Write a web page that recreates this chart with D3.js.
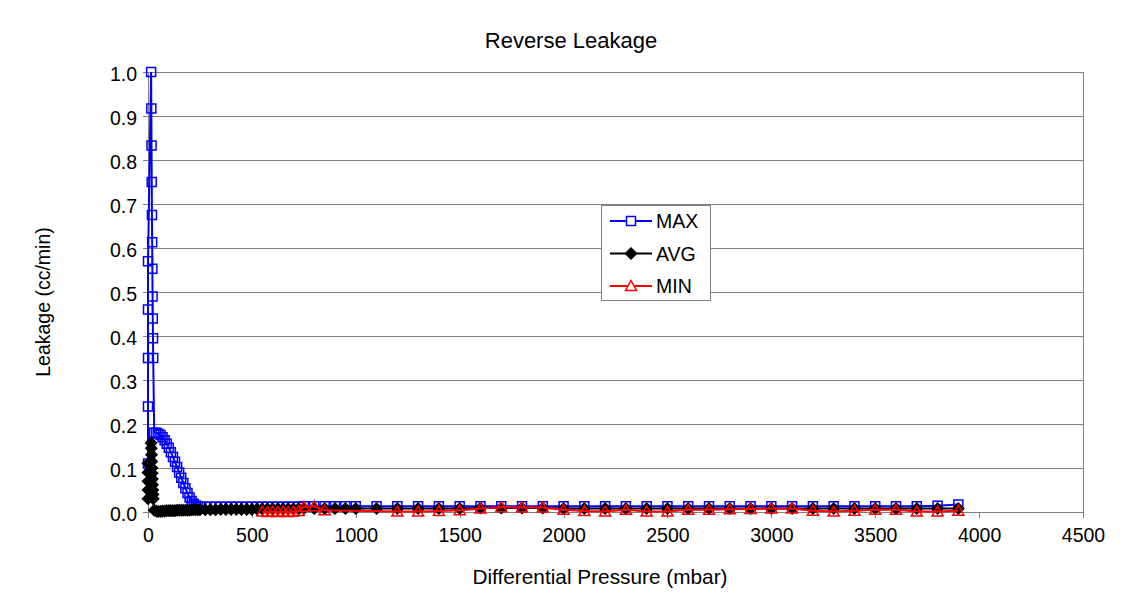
<!DOCTYPE html>
<html><head><meta charset="utf-8">
<script src="https://cdn.jsdelivr.net/npm/d3@7"></script>
<style>
html,body{margin:0;padding:0;background:#fff;}
text{font-family:"Liberation Sans",Arial,sans-serif;fill:#000;}
</style></head>
<body><svg id="chart" width="1130" height="616"></svg>
<script>
// ---------------- data ----------------
const title = "Reverse Leakage";
const xLabel = "Differential Pressure (mbar)";
const yLabel = "Leakage (cc/min)";
const xTicks = [0,500,1000,1500,2000,2500,3000,3500,4000,4500];
const yTicks = [0.0,0.1,0.2,0.3,0.4,0.5,0.6,0.7,0.8,0.9,1.0];
const seriesNames = ["MAX","AVG","MIN"];

const pressure = [0,0,0,0,0,
  15,16,17,18,19,20,21,22,23,24,25,
  30,40,50,60,70,80,90,100,110,120,130,140,150,160,170,180,190,200,210,220,230,240,250,
  275,300,325,350,375,400,425,450,475,500,525,550,575,600,625,650,675,700,725,
  750,800,850,900,950,1000,
  1100,1200,1300,1400,1500,1600,1700,1800,1900,2000,2100,2200,2300,2400,2500,2600,2700,2800,2900,3000,3100,3200,3300,3400,3500,3600,3700,3800,3900];

const maxValues = [0.11,0.24,0.35,0.46,0.57,
  1.0,0.917,0.833,0.75,0.675,0.613,0.553,0.49,0.44,0.395,0.35,
  0.18,0.18,0.178,0.175,0.17,0.163,0.155,0.146,0.136,0.125,0.114,0.102,0.09,0.078,0.066,0.054,0.043,0.033,0.025,0.019,0.015,0.013,0.012,
  0.012,0.012,0.012,0.012,0.012,0.012,0.012,0.012,0.012,0.012,0.012,0.012,0.012,0.012,0.012,0.012,0.012,0.012,0.012,
  0.013,0.013,0.013,0.013,0.013,0.013,
  0.013,0.013,0.013,0.013,0.013,0.013,0.013,0.013,0.013,0.013,0.013,0.013,0.013,0.013,0.013,0.013,0.013,0.013,0.013,0.013,0.013,0.013,0.013,0.013,0.013,0.013,0.013,0.014,0.017];

const avgValues = [0.03,0.05,0.07,0.09,0.11,
  0.157,0.145,0.13,0.115,0.1,0.088,0.075,0.062,0.05,0.04,0.03,
  0.004,0.002,0.001,0.001,0.002,0.002,0.003,0.003,0.003,0.003,0.003,0.004,0.004,0.004,0.004,0.004,0.004,0.004,0.005,0.005,0.005,0.005,0.005,
  0.005,0.005,0.005,0.006,0.006,0.006,0.006,0.006,0.006,0.006,0.007,0.007,0.007,0.007,0.007,0.007,0.007,0.007,0.007,
  0.008,0.008,0.008,0.008,0.008,0.008,
  0.008,0.008,0.008,0.008,0.008,0.009,0.009,0.009,0.009,0.008,0.008,0.008,0.008,0.008,0.008,0.008,0.008,0.008,0.008,0.008,0.008,0.008,0.008,0.008,0.008,0.008,0.008,0.008,0.008];

const minPressure = [550,575,600,625,650,675,700,725,750,800,850,
  1200,1300,1400,1500,1600,1700,1800,1900,2000,2100,2200,2300,2400,2500,2600,2700,2800,2900,3000,3100,3200,3300,3400,3500,3600,3700,3800,3900];
const minValues = [0.001,0.0,0.001,0.0,0.001,0.0,0.001,0.002,0.012,0.013,0.004,
  0.001,0.001,0.002,0.004,0.008,0.011,0.01,0.01,0.005,0.002,0.001,0.005,0.001,0.001,0.005,0.005,0.006,0.007,0.008,0.008,0.003,0.001,0.003,0.005,0.005,0.001,0.001,0.003];

// ---------------- layout ----------------
const svg = d3.select("#chart");
const L = 148, R = 1083, T = 72, B = 512;
const x = d3.scaleLinear().domain([0,4500]).range([L,R]);
const y = d3.scaleLinear().domain([0,1]).range([B,T]);
const gridColor = "#808080";
const FONT = "Liberation Sans, Arial, sans-serif";

// gridlines
svg.append("g").selectAll("line").data(yTicks.filter(d=>d>0)).join("line")
  .attr("x1",L).attr("x2",R).attr("y1",d=>y(d)).attr("y2",d=>y(d))
  .attr("stroke",gridColor).attr("stroke-width",1).attr("shape-rendering","crispEdges");
// right border
svg.append("line").attr("x1",R).attr("x2",R).attr("y1",T).attr("y2",B)
  .attr("stroke",gridColor).attr("shape-rendering","crispEdges");

// axes
const yAxis = svg.append("g").attr("transform",`translate(${L},0)`)
  .call(d3.axisLeft(y).tickValues(yTicks).tickFormat(d3.format(".1f")).tickSize(5).tickPadding(6));
const xAxis = svg.append("g").attr("transform",`translate(0,${B})`)
  .call(d3.axisBottom(x).tickValues(xTicks).tickFormat(d3.format("d")).tickSize(6).tickPadding(10));
[yAxis,xAxis].forEach(g=>{
  g.select(".domain").attr("stroke",gridColor).attr("shape-rendering","crispEdges");
  g.selectAll(".tick line").attr("stroke",gridColor).attr("shape-rendering","crispEdges");
  g.selectAll(".tick text").attr("font-size",19.5).attr("font-family",FONT).attr("fill","#000");
});
yAxis.selectAll(".tick text").attr("dy","0.45em");

// titles
svg.append("text").attr("x",571).attr("y",48).attr("text-anchor","middle").attr("font-size",22).text(title);
svg.append("text").attr("x",600).attr("y",584).attr("text-anchor","middle").attr("font-size",20.8).text(xLabel);
svg.append("text").attr("transform",`translate(50,${(T+B)/2 + 10}) rotate(-90)`).attr("text-anchor","middle").attr("font-size",19.5).text(yLabel);

// markers
const sq = 4.5;
function squarePath(){ return `M${-sq},${-sq}H${sq}V${sq}H${-sq}Z`; }
function diamondPath(){ return "M0,-5.5L5.5,0L0,5.5L-5.5,0Z"; }
function trianglePath(){ return "M0,-5.5L5.5,4.5L-5.5,4.5Z"; }

const series = [
  {name:"MAX", xs:pressure, ys:maxValues, color:"#0000FF", marker:squarePath, fill:"none"},
  {name:"AVG", xs:pressure, ys:avgValues, color:"#000000", marker:diamondPath, fill:"#000000"},
  {name:"MIN", xs:minPressure, ys:minValues, color:"#FF0000", marker:trianglePath, fill:"none"}
];
const line = d3.line().x(d=>x(d[0])).y(d=>y(d[1]));
series.forEach(s=>{
  const pts = s.xs.map((p,i)=>[p,s.ys[i]]);
  const g = svg.append("g");
  g.append("path").datum(pts).attr("d",line).attr("fill","none").attr("stroke",s.color).attr("stroke-width",2);
  g.selectAll("path.m").data(pts).join("path").attr("class","m")
    .attr("transform",d=>`translate(${x(d[0])},${y(d[1])})`)
    .attr("d",s.marker()).attr("fill",s.fill).attr("stroke",s.color).attr("stroke-width",1.5);
});

// legend
const lg = svg.append("g");
lg.append("rect").attr("x",601.5).attr("y",205.5).attr("width",109).attr("height",95)
  .attr("fill","#fff").attr("stroke",gridColor).attr("stroke-width",1);
series.forEach((s,i)=>{
  const cy = 221 + i*32.5;
  lg.append("line").attr("x1",610).attr("x2",652).attr("y1",cy).attr("y2",cy).attr("stroke",s.color).attr("stroke-width",2);
  lg.append("path").attr("transform",`translate(631,${cy})`).attr("d",s.marker()).attr("fill",s.fill==="none"?"#fff":s.fill).attr("stroke",s.color).attr("stroke-width",1.5);
  lg.append("text").attr("x",656).attr("y",cy+7).attr("font-size",19.5).text(s.name);
});
</script></body></html>
